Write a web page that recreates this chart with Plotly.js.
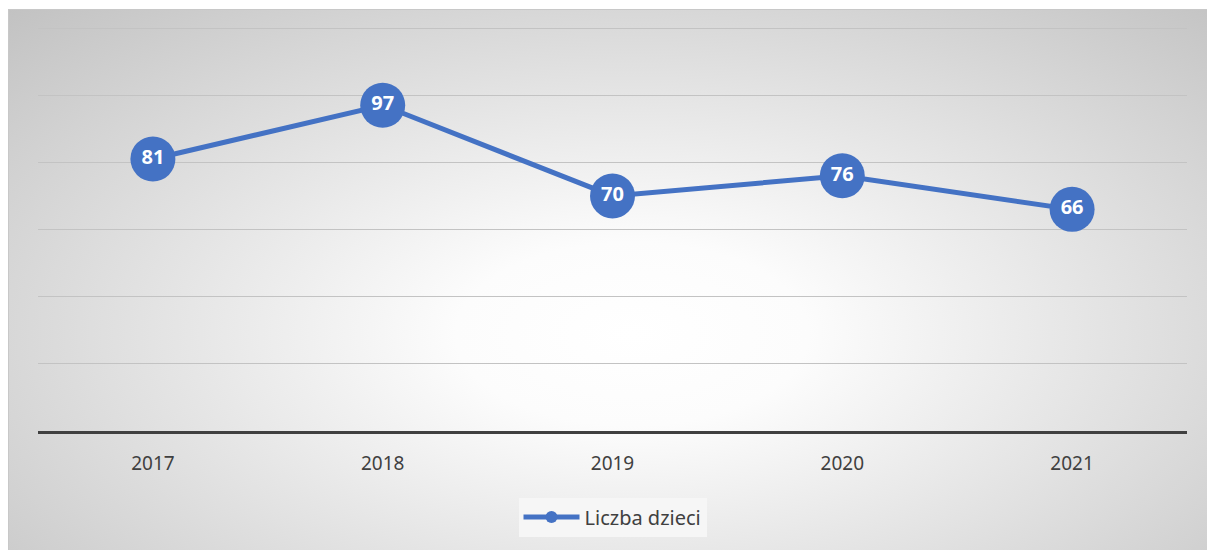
<!DOCTYPE html>
<html>
<head>
<meta charset="utf-8">
<script src="https://cdn.plot.ly/plotly-3.0.1.min.js"></script>
<style>
  html, body { margin: 0; padding: 0; width: 1207px; height: 550px; overflow: hidden; background: #ffffff; }
  #bg { position: absolute; left: 8px; top: 9px; width: 1199px; height: 541px;
        background: radial-gradient(ellipse farthest-corner at 52% 60%, #ffffff 0%, #fcfcfc 20%, #c2c2c2 100%);
        border-top: 1px solid #c8c8c8; border-left: 1px solid #c8c8c8; box-sizing: border-box; }
  #chart { position: absolute; left: 0; top: 0; width: 1207px; height: 550px; }
</style>
</head>
<body>
<div id="bg"></div>
<div id="chart"></div>
<script>
const years = ['2017', '2018', '2019', '2020', '2021'];
const liczbaDzieci = [81, 97, 70, 76, 66];
const seriesName = 'Liczba dzieci';

const trace = {
  x: years,
  y: liczbaDzieci,
  name: seriesName,
  type: 'scatter',
  mode: 'lines+markers+text',
  text: liczbaDzieci.map(String),
  textposition: 'middle center',
  textfont: { family: 'Noto Sans, Open Sans, sans-serif', size: 20, color: '#ffffff', weight: 'bold' },
  line: { color: '#4472C4', width: 5 },
  marker: { color: '#4472C4', size: 45, line: { width: 0 } },
  cliponaxis: false,
  hoverinfo: 'x+y'
};

const layout = {
  width: 1207,
  height: 550,
  margin: { l: 38, r: 20, t: 27, b: 119 },
  paper_bgcolor: 'rgba(0,0,0,0)',
  plot_bgcolor: 'rgba(0,0,0,0)',
  showlegend: true,
  font: { family: 'Noto Sans, Open Sans, sans-serif', color: '#404040' },
  xaxis: {
    type: 'category',
    range: [-0.5, 4.5],
    showgrid: false,
    showline: true,
    linecolor: '#404040',
    linewidth: 3,
    ticks: '',
    tickfont: { size: 19, color: '#404040' },
    ticklabelstandoff: 13,
    fixedrange: true
  },
  yaxis: {
    range: [0, 120.3],
    dtick: 20,
    showticklabels: false,
    showgrid: true,
    gridcolor: '#c3c3c3',
    gridwidth: 1,
    zeroline: false,
    ticks: '',
    fixedrange: true
  },
  legend: {
    orientation: 'h',
    x: 0.5,
    xanchor: 'center',
    y: -0.213,
    yanchor: 'middle',
    bgcolor: '#f6f6f6',
    borderwidth: 0,
    font: { size: 20, color: '#404040' },
    itemsizing: 'constant',
    itemwidth: 56
  }
};

Plotly.newPlot('chart', [trace], layout, { displayModeBar: false, staticPlot: true });
</script>
</body>
</html>
